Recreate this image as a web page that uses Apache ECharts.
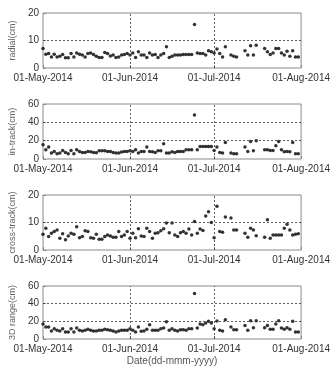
<!DOCTYPE html>
<html>
<head>
<meta charset="utf-8">
<script src="https://cdn.jsdelivr.net/npm/echarts@6/dist/echarts.min.js"></script>
<style>
  html, body { margin: 0; padding: 0; background: #fff; }
  #chart { width: 333px; height: 367px; }
</style>
</head>
<body>
<div id="chart"></div>
<script>
// observation days (day of month) in 2014
var mayDays = [1,2,3,4,5,6,7,8,9,10,11,12,13,14,15,16,17,18,19,20,21,22,23,24,25,26,27,28,29,30,31];
var juneDays = [1,2,3,4,5,6,7,8,9,10,11,12,13,14,15,16,17,18,19,20,21,22,23,24,25,26,27,28,29,30];
var julyDays = [1,2,3,4,5,7,8,9,12,13,14,15,16,19,20,21,22,23,24,25,26,27,28,29,30,31];

var monthTicks = ['2014-05-01', '2014-06-01', '2014-07-01', '2014-08-01'];
var monthLines = ['2014-06-01', '2014-07-01'];

// errors in cm
var radial = [
    7.1,5.0,5.3,4.0,5.0,4.0,4.3,4.9,3.7,3.7,5.3,4.0,5.5,5.0,4.7,4.0,5.3,5.5,4.9,4.3,3.8,3.8,5.6,5.3,4.4,4.7,3.8,4.0,4.7,4.9,5.3,
    4.7,5.5,3.8,5.9,4.7,4.7,3.8,5.5,4.7,4.9,3.8,4.7,5.3,7.7,3.8,4.3,4.7,4.7,4.7,4.9,4.9,4.9,4.9,15.8,5.5,5.3,5.3,4.7,6.3,5.9,
    5.5,6.9,5.3,4.0,7.7,4.7,4.3,4.0,6.3,4.7,8.1,4.7,8.3,7.1,5.9,4.9,5.5,7.1,7.1,5.5,4.7,6.1,4.3,6.3,4.0,4.0
];
var inTrack = [
    15.5,10,13,6.5,8.3,5.8,6.5,9.4,7.2,5.8,9.4,5.8,10,8.3,7.2,7.2,8.3,8,7.2,6.9,9,9,9,8.3,8.3,7.2,6.5,6.5,7.6,8.3,8.3,
    9,8.3,10,6.5,8.3,8.3,13,8.3,8,7.2,9,9,16.6,6.5,6.5,8,7.2,8.3,8.3,8.3,10,10,10,48,10,13.7,13.7,13.7,13.7,13.7,
    9.4,13,7.2,6.5,18,6.5,5.8,5.8,13,8.3,19,9,20,10,10,9.4,9.4,14.4,19,10,8,8.3,8,18,5.8,5.8
];
var crossTrack = [
    5.7,7.9,4.9,6.1,6.7,7.3,4.3,5.9,3.7,5.1,6.1,5.7,8.5,4.5,4.9,7,6.7,4.5,4.3,5.7,3.9,3.9,4.9,5.5,5.1,4.6,4.6,6.7,4.9,5.5,6.7,
    4.3,6.1,4.5,7.7,5.1,4.9,7.9,6.7,4.3,6.1,6.3,7,7.7,9.8,6.3,9.8,5.5,4.9,6.3,6.7,6.1,7.6,5.5,10.4,6.1,7.6,7.1,12.4,13.9,10,
    4.5,15.9,6.7,6.5,12,11.6,7.3,7.3,6.1,4.6,7.9,7.3,5.2,4.6,11,4.3,5.5,5.5,5.5,5.5,7.9,9.4,7.3,5.5,5.7,5.9
];
var range3d = [
    17,13.5,13.5,9,11.6,9.8,9,11.6,8,8,11.6,8,12.4,9.8,9,9.8,10.9,9.8,9,9,9.8,9.8,10.9,10.5,9.8,9,8,9,9.8,9.8,9.8,
    11.6,9.8,8,13.5,8.7,9,10.9,16,9.8,9.8,9.8,11.6,12.4,19.6,9.8,11.6,9.8,9,10.5,10.5,9.8,11.6,11.6,51.6,12.4,17,16,18,20,18,
    11.6,20.4,9.8,9,21.8,13.5,10.5,10.5,15.3,9.8,20.7,12.7,20.7,12.7,15.3,10.9,10.9,17,20.7,12.4,10.9,12.7,10.9,20,8,8
];

var panels = [
    { name: 'radial(cm)', values: radial, max: 20, interval: 10, lines: [10] },
    { name: 'in-track(cm)', values: inTrack, max: 60, interval: 20, lines: [20, 40] },
    { name: 'cross-track(cm)', values: crossTrack, max: 20, interval: 10, lines: [10] },
    { name: '3D range(cm)', values: range3d, max: 60, interval: 20, lines: [20, 40] }
];
var gridTops = [13, 104, 195, 286];

function ts(s) {
    var p = s.split('-');
    return Date.UTC(+p[0], +p[1] - 1, +p[2]);
}

var dates = [];
mayDays.forEach(function (d) { dates.push(Date.UTC(2014, 4, d)); });
juneDays.forEach(function (d) { dates.push(Date.UTC(2014, 5, d)); });
julyDays.forEach(function (d) { dates.push(Date.UTC(2014, 6, d)); });

var monNames = ['Jan','Feb','Mar','Apr','May','Jun','Jul','Aug','Sep','Oct','Nov','Dec'];
function fmtDate(v) {
    var d = new Date(v);
    var dd = d.getUTCDate();
    return (dd < 10 ? '0' + dd : dd) + '-' + monNames[d.getUTCMonth()] + '-' + d.getUTCFullYear();
}

var tickVals = monthTicks.map(ts);
var grid = [], xAxis = [], yAxis = [], series = [];
var fontFam = 'Arial, "Liberation Sans", sans-serif';

panels.forEach(function (p, i) {
    grid.push({
        left: 28, right: 28, top: gridTops[i], height: 55,
        show: true, borderColor: '#8a8a8a', borderWidth: 1, backgroundColor: 'transparent'
    });
    xAxis.push({
        type: 'value', gridIndex: i,
        min: tickVals[0], max: tickVals[3],
        axisLine: { show: false },
        axisTick: { show: true, inside: true, length: 3, customValues: tickVals, lineStyle: { color: '#8a8a8a' } },
        splitLine: { show: false },
        axisLabel: {
            customValues: tickVals, formatter: fmtDate, hideOverlap: false,
            color: '#333', fontSize: 10, fontFamily: fontFam, margin: 5
        },
        name: i === 3 ? 'Date(dd-mmm-yyyy)' : '',
        nameLocation: 'middle', nameGap: 17,
        nameTextStyle: { color: '#555', fontSize: 10, fontFamily: fontFam }
    });
    yAxis.push({
        type: 'value', gridIndex: i,
        min: 0, max: p.max, interval: p.interval,
        axisLine: { show: false },
        axisTick: { show: true, inside: true, length: 3, lineStyle: { color: '#8a8a8a' } },
        splitLine: { show: false },
        axisLabel: { color: '#333', fontSize: 10, fontFamily: fontFam, margin: 4 },
        name: p.name, nameLocation: 'middle', nameGap: 15, nameRotate: 90,
        nameTextStyle: { color: '#666', fontSize: 9, fontFamily: fontFam }
    });
    var lineData = [];
    monthLines.forEach(function (m) { lineData.push({ xAxis: ts(m) }); });
    p.lines.forEach(function (v) { lineData.push({ yAxis: v }); });
    series.push({
        type: 'scatter', xAxisIndex: i, yAxisIndex: i,
        symbol: 'circle', symbolSize: 3.5,
        itemStyle: { color: '#000' },
        data: dates.map(function (t, k) { return [t, p.values[k]]; }),
        markLine: {
            silent: true, symbol: 'none', animation: false,
            label: { show: false },
            lineStyle: { color: '#333', type: [2, 2], width: 0.8 },
            data: lineData
        }
    });
});

var myChart = echarts.init(document.getElementById('chart'));
myChart.setOption({
    animation: false,
    grid: grid,
    xAxis: xAxis,
    yAxis: yAxis,
    series: series
});
</script>
</body>
</html>
